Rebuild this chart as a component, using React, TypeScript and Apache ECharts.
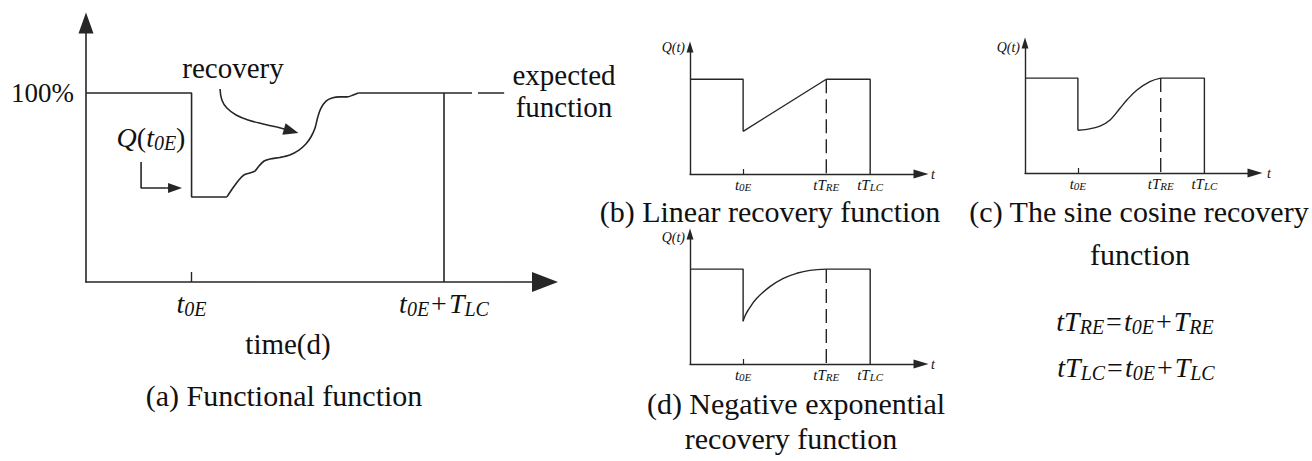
import React, { useEffect, useRef } from 'react';
import * as echarts from 'echarts';

const SERIF = '"Liberation Serif", "Times New Roman", serif';
const LINE = '#262626';
const TEXT = '#111111';

// key instants, in % of the horizontal axis length
const T0E = 23;
const TRE = 59;
const TLC = 78;

// ---- panel (a) functional function ----
const aStep = [[0, 100], [23, 100], [23, 45], [30.7, 45]];
const aRecovery = [
  [30.7, 45], [32.0, 49.7], [33.3, 54.0], [34.4, 56.6], [35.7, 57.7], [36.8, 58.7],
  [37.7, 61.4], [38.8, 64.0], [40.1, 65.1], [42.3, 65.9], [44.4, 67.2], [46.4, 69.8],
  [47.9, 73.0], [49.0, 76.7], [49.9, 81.5], [50.5, 87.3], [51.2, 92.0], [52.3, 95.7],
  [53.6, 97.3], [55.3, 97.9], [56.9, 97.9], [58.2, 98.9], [59.3, 100],
];
const aPlateau = [[59.3, 100], [84.1, 100]];
const aLifeEnd = [[78, 100], [78, 0]];
const aExpected = [[85.4, 100], [91.1, 100]];
const aQPointer = [[12, 63.5], [12, 49.7], [17.5, 49.7]];
const aQHead = [[17.5, 49.7], [19.4, 49.7]];
const aRecPointer = [[29.2, 102.1], [29.6, 96.3], [30.7, 92.0], [32.7, 88.3], [35.3, 85.7], [38.6, 83.6], [41.6, 82.0]];
const aRecHead = [[41.6, 82.0], [44.7, 79.9]];
const aTickValues = [T0E];
const aLabelValues = [T0E, TLC];

// ---- panels (b)(c)(d) ----
const smallStep = [[0, 100], [23, 100], [23, 45]];
const smallPlateau = [[59, 100], [78, 100], [78, 0]];
const smallDashed = [[59, 100], [59, 0]];
const linearCurve = [[23, 45], [59, 100]];
const sineCurve = [[23, 45], [27, 46], [32.6, 49.5], [37, 55.9], [41.3, 68.2], [44.3, 76.9], [48.7, 87.5], [54.3, 96.3], [59, 100]];
const expCurve = [[23, 45], [23.8, 50.6], [25.2, 56.9], [28.9, 69.2], [34.6, 81.5], [40.4, 90.3], [46.2, 95.6], [51.9, 98.7], [59, 100]];
const smallLabelValues = [T0E, TRE, TLC];
const smallLabelTexts = ['{i|t}{s|0E}', '{i|tT}{s|RE}', '{i|tT}{s|LC}'];

function richSet(main: number, sub: number, mainLH: number, subLH: number, colorKey: 'color' | 'fill') {
  return {
    i: { fontFamily: SERIF, fontStyle: 'italic', fontSize: main, lineHeight: mainLH, [colorKey]: TEXT },
    s: { fontFamily: SERIF, fontStyle: 'italic', fontSize: sub, lineHeight: subLH, verticalAlign: 'bottom', [colorKey]: TEXT },
    n: { fontFamily: SERIF, fontSize: main, lineHeight: mainLH, [colorKey]: TEXT, padding: [0, 2, 0, 2] },
    p: { fontFamily: SERIF, fontSize: main, lineHeight: mainLH, [colorKey]: TEXT },
  } as any;
}

function line(data: number[][], idx: number, extra: any = {}) {
  const width = idx === 0 ? 1.6 : 1.4;
  return {
    type: 'line',
    xAxisIndex: idx,
    yAxisIndex: idx,
    data,
    symbol: 'none',
    silent: true,
    color: LINE,
    ...extra,
    lineStyle: { color: LINE, width, ...(extra.lineStyle || {}) },
  };
}

function headLine(data: number[][], idx: number, head: number[][], size: number[], extra: any = {}) {
  return {
    ...line(data, idx, extra),
    markLine: {
      silent: true,
      animation: false,
      symbol: ['none', 'triangle'],
      label: { show: false },
      itemStyle: { color: LINE },
      lineStyle: { color: LINE, width: 1.6, type: 'solid' },
      data: [[{ coord: head[0], symbol: 'none' }, { coord: head[1], symbol: 'triangle', symbolSize: size }]],
    },
  };
}

function smallX(grid: number, max: number, nameGap: number) {
  return {
    type: 'value', gridIndex: grid, min: 0, max,
    axisLine: { show: true, onZero: false, symbol: ['none', 'triangle'], symbolSize: [9, 15], lineStyle: { color: LINE, width: 1.4 } },
    axisTick: { show: true, customValues: [T0E], inside: true, length: 5, lineStyle: { color: LINE, width: 1.2 } },
    axisLabel: {
      show: true, customValues: smallLabelValues, margin: 3,
      formatter: (v: number) => smallLabelTexts[smallLabelValues.indexOf(v)] || '',
      rich: richSet(15, 11, 15, 8, 'color'),
    },
    splitLine: { show: false },
    name: 't', nameLocation: 'end', nameGap,
    nameTextStyle: { fontFamily: SERIF, fontStyle: 'italic', fontSize: 14, color: TEXT, padding: [5, 0, 0, 0] },
  };
}

function smallY(grid: number, max: number, nameGap: number) {
  return {
    type: 'value', gridIndex: grid, min: 0, max,
    axisLine: { show: true, onZero: false, symbol: ['none', 'triangle'], symbolSize: [7, 11], lineStyle: { color: LINE, width: 1.4 } },
    axisTick: { show: false },
    axisLabel: { show: false },
    splitLine: { show: false },
    name: 'Q(t)', nameLocation: 'end', nameGap,
    nameTextStyle: { fontFamily: SERIF, fontStyle: 'italic', fontSize: 14, color: TEXT, align: 'right', verticalAlign: 'middle', padding: [0, 5, 0, 0] },
  };
}

function txt(text: string, x: number, y: number, size: number, extra: any = {}) {
  return {
    type: 'text', x, y, silent: true, z: 100,
    style: { text, fontFamily: SERIF, fontSize: size, lineHeight: Math.round(size * 0.85), fill: TEXT, align: 'center', verticalAlign: 'middle', ...extra },
  };
}

const bigGraphicRich = richSet(28, 20, 32, 16, 'fill');

const option: any = {
  animation: false,
  backgroundColor: '#ffffff',
  grid: [
    { left: 86, top: 23, width: 459, height: 259 },
    { left: 690, top: 47, width: 231, height: 127 },
    { left: 1025, top: 43, width: 230, height: 130 },
    { left: 690, top: 234, width: 231, height: 130 },
  ],
  xAxis: [
    {
      type: 'value', gridIndex: 0, min: 0, max: 100,
      axisLine: { show: true, onZero: false, symbol: ['none', 'triangle'], symbolSize: [20, 26], lineStyle: { color: LINE, width: 1.6 } },
      axisTick: { show: true, customValues: aTickValues, inside: true, length: 10, lineStyle: { color: LINE, width: 1.4 } },
      axisLabel: {
        show: true, customValues: aLabelValues, margin: 5,
        formatter: (v: number) => (v === T0E ? '{i|t}{s|0E}' : '{i|t}{s|0E}{n|+}{i|T}{s|LC}'),
        rich: richSet(28, 20, 32, 16, 'color'),
      },
      splitLine: { show: false },
    },
    smallX(1, 100, 10),
    smallX(2, 100, 12),
    smallX(3, 100, 10),
  ],
  yAxis: [
    {
      type: 'value', gridIndex: 0, min: 0, max: 137,
      axisLine: { show: true, onZero: false, symbol: ['none', 'triangle'], symbolSize: [15, 21], lineStyle: { color: LINE, width: 1.6 } },
      axisTick: { show: false },
      axisLabel: {
        show: true, customValues: [100], margin: 12,
        formatter: () => '100%',
        fontFamily: SERIF, fontSize: 27, color: TEXT,
      },
      splitLine: { show: false },
    },
    smallY(1, 134, 0),
    smallY(2, 137, -4),
    smallY(3, 137, -3),
  ],
  series: [
    line(aStep, 0),
    line(aRecovery, 0, { smooth: 0.3 }),
    line(aPlateau, 0),
    line(aLifeEnd, 0),
    line(aExpected, 0),
    headLine(aQPointer, 0, aQHead, [10, 14]),
    headLine(aRecPointer, 0, aRecHead, [12, 15], { smooth: 0.4 }),

    line(smallStep, 1),
    line(linearCurve, 1),
    line(smallPlateau, 1),
    line(smallDashed, 1, { lineStyle: { type: [14, 6] } }),

    line(smallStep, 2),
    line(sineCurve, 2, { smooth: 0.4 }),
    line(smallPlateau, 2),
    line(smallDashed, 2, { lineStyle: { type: [14, 6] } }),

    line(smallStep, 3),
    line(expCurve, 3, { smooth: 0.4 }),
    line(smallPlateau, 3),
    line(smallDashed, 3, { lineStyle: { type: [14, 6] } }),
  ],
  graphic: [
    txt('recovery', 233, 68, 29),
    txt('expected', 564, 75, 29),
    txt('function', 564, 107, 29),
    txt('{i|Q}{p|(}{i|t}{s|0E}{p|)}', 151, 137, 28, { rich: bigGraphicRich }),
    txt('time(d)', 288, 344, 29),
    txt('(a) Functional function', 284, 395, 30),
    txt('(b) Linear recovery function', 770, 211, 30),
    txt('(c) The sine cosine recovery', 1139, 211, 30),
    txt('function', 1140, 254, 30),
    txt('(d) Negative exponential', 796, 403, 30),
    txt('recovery function', 791, 438, 30),
    txt('{i|tT}{s|RE}{n|=}{i|t}{s|0E}{n|+}{i|T}{s|RE}', 1135, 321, 28, { rich: bigGraphicRich }),
    txt('{i|tT}{s|LC}{n|=}{i|t}{s|0E}{n|+}{i|T}{s|LC}', 1136, 367, 28, { rich: bigGraphicRich }),
  ],
};

export default function App() {
  const ref = useRef<HTMLDivElement>(null);
  useEffect(() => {
    document.body.style.margin = '0';
    const chart = echarts.init(ref.current!, null, { renderer: 'svg' });
    chart.setOption(option);
    return () => chart.dispose();
  }, []);
  return (
    <div
      ref={ref}
      style={{ position: 'fixed', left: 0, top: 0, width: 1312, height: 461, background: '#fff' }}
    />
  );
}
